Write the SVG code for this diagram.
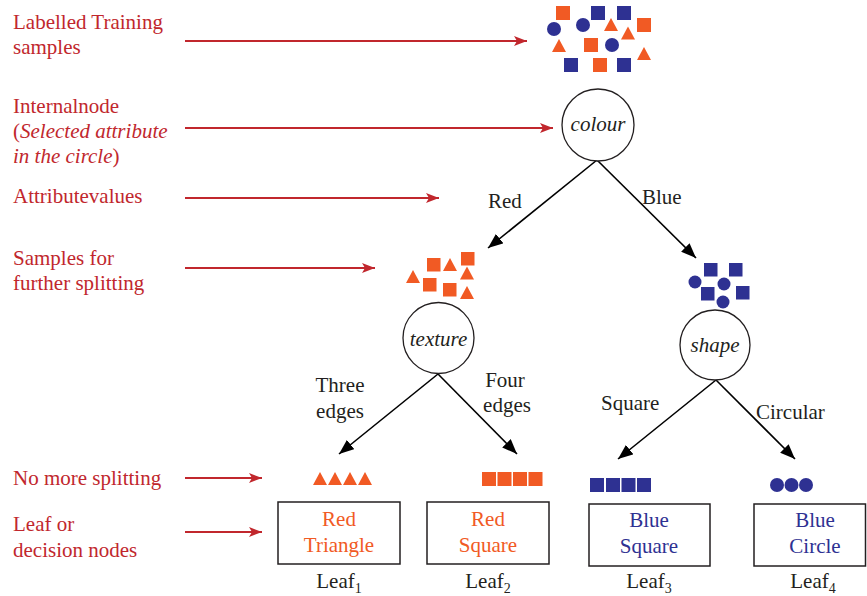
<svg xmlns="http://www.w3.org/2000/svg" width="867" height="596" viewBox="0 0 867 596" font-family="'Liberation Serif', 'DejaVu Serif', serif">
<style>
text{font-family:'Liberation Serif','DejaVu Serif',serif;font-size:21px}
.lbl{fill:#C1272D}
.blk{fill:#231F20}
.it{font-style:italic}
.mid{text-anchor:middle}
.r{fill:#F15A24}
.b{fill:#2E3192}
.redtxt{fill:#F15A24}
.bluetxt{fill:#2E3192}
.node{fill:#fff;stroke:#231F20;stroke-width:1.3}
.box{fill:#fff;stroke:#231F20;stroke-width:1.5}
.ra{stroke:#C1272D;stroke-width:2;fill:none;marker-end:url(#mr)}
.ba{stroke:#000;stroke-width:1.6;fill:none;marker-end:url(#mb)}
</style>
<defs>
<marker id="mr" markerUnits="userSpaceOnUse" markerWidth="13" markerHeight="10" refX="13" refY="5" orient="auto"><path d="M0,0 L13,5 L0,10 L3,5 z" fill="#C1272D"/></marker>
<marker id="mb" markerUnits="userSpaceOnUse" markerWidth="15" markerHeight="12" refX="15" refY="6" orient="auto"><path d="M0,0 L15,6 L0,12 z" fill="#000"/></marker>
<path id="tri" d="M0,-6.5 L7,6.5 L-7,6.5 z"/>
<rect id="sq" x="0" y="0" width="14" height="14"/>
<rect id="sq13" x="0" y="0" width="13.5" height="13.5"/>
</defs>

<g id="labels">
<text class="lbl" x="13" y="29">Labelled Training</text>
<text class="lbl" x="13" y="54">samples</text>
<text class="lbl" x="13" y="113">Internalnode</text>
<text class="lbl" x="13" y="138">(<tspan class="it">Selected attribute</tspan></text>
<text class="lbl" x="13" y="163"><tspan class="it">in the circle</tspan>)</text>
<text class="lbl" x="13" y="203">Attributevalues</text>
<text class="lbl" x="13" y="265">Samples for</text>
<text class="lbl" x="13" y="290">further splitting</text>
<text class="lbl" x="13" y="485">No more splitting</text>
<text class="lbl" x="13" y="531">Leaf or</text>
<text class="lbl" x="13" y="557">decision nodes</text>
</g>

<g id="connectors">
<line class="ra" x1="185" y1="41" x2="527" y2="41"/>
<line class="ra" x1="185" y1="128" x2="553" y2="128"/>
<line class="ra" x1="185" y1="198" x2="439" y2="198"/>
<line class="ra" x1="185" y1="268" x2="375" y2="268"/>
<line class="ra" x1="185" y1="478" x2="262" y2="478"/>
<line class="ra" x1="185" y1="532" x2="262" y2="532"/>
<line class="ba" x1="597" y1="160" x2="488" y2="248"/>
<line class="ba" x1="597" y1="160" x2="696" y2="258"/>
<line class="ba" x1="438" y1="374" x2="339" y2="454"/>
<line class="ba" x1="438" y1="374" x2="517" y2="454"/>
<line class="ba" x1="716" y1="380" x2="618" y2="459"/>
<line class="ba" x1="716" y1="380" x2="795" y2="459"/>
</g>

<g id="training-samples">
<use href="#sq" class="r" x="556" y="6"/>
<use href="#sq" class="b" x="591" y="6"/>
<use href="#sq" class="b" x="617" y="6"/>
<use href="#sq" class="r" x="637" y="18"/>
<use href="#sq" class="r" x="584" y="38"/>
<use href="#sq" class="b" x="564" y="58"/>
<use href="#sq" class="r" x="593" y="58"/>
<use href="#sq" class="b" x="617" y="58"/>
<circle class="b" cx="554" cy="29" r="7"/>
<circle class="b" cx="583" cy="25" r="7"/>
<circle class="b" cx="612" cy="45" r="7"/>
<use href="#tri" class="r" x="611" y="24.5"/>
<use href="#tri" class="r" x="628" y="33"/>
<use href="#tri" class="r" x="559" y="45.5"/>
<use href="#tri" class="r" x="644" y="53.5"/>
</g>

<g id="node-colour">
<circle class="node" cx="598" cy="125" r="36"/>
<text class="blk it mid" x="598" y="131">colour</text>
</g>

<g id="edge-labels">
<text class="blk" x="488" y="208">Red</text>
<text class="blk" x="642" y="204">Blue</text>
<text class="blk mid" x="340" y="392">Three</text>
<text class="blk mid" x="340" y="418">edges</text>
<text class="blk mid" x="505" y="387">Four</text>
<text class="blk mid" x="507" y="412">edges</text>
<text class="blk" x="601" y="410">Square</text>
<text class="blk" x="756" y="419">Circular</text>
</g>

<g id="red-samples">
<use href="#sq13" class="r" x="427" y="258"/>
<use href="#sq13" class="r" x="461" y="252"/>
<use href="#sq13" class="r" x="423" y="278"/>
<use href="#sq13" class="r" x="443" y="283"/>
<use href="#tri" class="r" x="450" y="264.5"/>
<use href="#tri" class="r" x="413" y="276.5"/>
<use href="#tri" class="r" x="467" y="273"/>
<use href="#tri" class="r" x="467" y="292.5"/>
</g>

<g id="blue-samples">
<use href="#sq13" class="b" x="704" y="263"/>
<use href="#sq13" class="b" x="729" y="263"/>
<use href="#sq13" class="b" x="701" y="287"/>
<use href="#sq13" class="b" x="736" y="286"/>
<circle class="b" cx="695" cy="282" r="6.5"/>
<circle class="b" cx="724" cy="284" r="6.5"/>
<circle class="b" cx="723" cy="302" r="6.5"/>
</g>

<g id="node-texture">
<circle class="node" cx="438.5" cy="338" r="35.5"/>
<text class="blk it mid" x="438.5" y="346">texture</text>
</g>

<g id="node-shape">
<circle class="node" cx="715" cy="345" r="35"/>
<text class="blk it mid" x="715" y="352">shape</text>
</g>

<g id="final-samples">
<use href="#tri" class="r" x="320" y="478.5"/>
<use href="#tri" class="r" x="335" y="478.5"/>
<use href="#tri" class="r" x="350" y="478.5"/>
<use href="#tri" class="r" x="365" y="478.5"/>
<use href="#sq" class="r" x="482" y="472"/>
<use href="#sq" class="r" x="497.5" y="472"/>
<use href="#sq" class="r" x="513" y="472"/>
<use href="#sq" class="r" x="528.5" y="472"/>
<use href="#sq" class="b" x="590" y="478"/>
<use href="#sq" class="b" x="606" y="478"/>
<use href="#sq" class="b" x="621.5" y="478"/>
<use href="#sq" class="b" x="637" y="478"/>
<circle class="b" cx="777" cy="485" r="7"/>
<circle class="b" cx="791.5" cy="485" r="7"/>
<circle class="b" cx="806" cy="485" r="7"/>
</g>

<g id="leaf1">
<rect class="box" x="278" y="502" width="122" height="62"/>
<text class="redtxt mid" x="339" y="526">Red</text>
<text class="redtxt mid" x="339" y="552">Triangle</text>
<text class="blk mid" x="339" y="588">Leaf<tspan font-size="14" dy="5">1</tspan></text>
</g>
<g id="leaf2">
<rect class="box" x="427" y="502" width="122" height="62"/>
<text class="redtxt mid" x="488" y="526">Red</text>
<text class="redtxt mid" x="488" y="552">Square</text>
<text class="blk mid" x="488" y="588">Leaf<tspan font-size="14" dy="5">2</tspan></text>
</g>
<g id="leaf3">
<rect class="box" x="589" y="504" width="121" height="62"/>
<text class="bluetxt mid" x="649" y="527">Blue</text>
<text class="bluetxt mid" x="649" y="553">Square</text>
<text class="blk mid" x="649" y="588">Leaf<tspan font-size="14" dy="5">3</tspan></text>
</g>
<g id="leaf4">
<rect class="box" x="754" y="504" width="111.5" height="62"/>
<text class="bluetxt mid" x="815" y="527">Blue</text>
<text class="bluetxt mid" x="815" y="553">Circle</text>
<text class="blk mid" x="813" y="588">Leaf<tspan font-size="14" dy="5">4</tspan></text>
</g>
</svg>
